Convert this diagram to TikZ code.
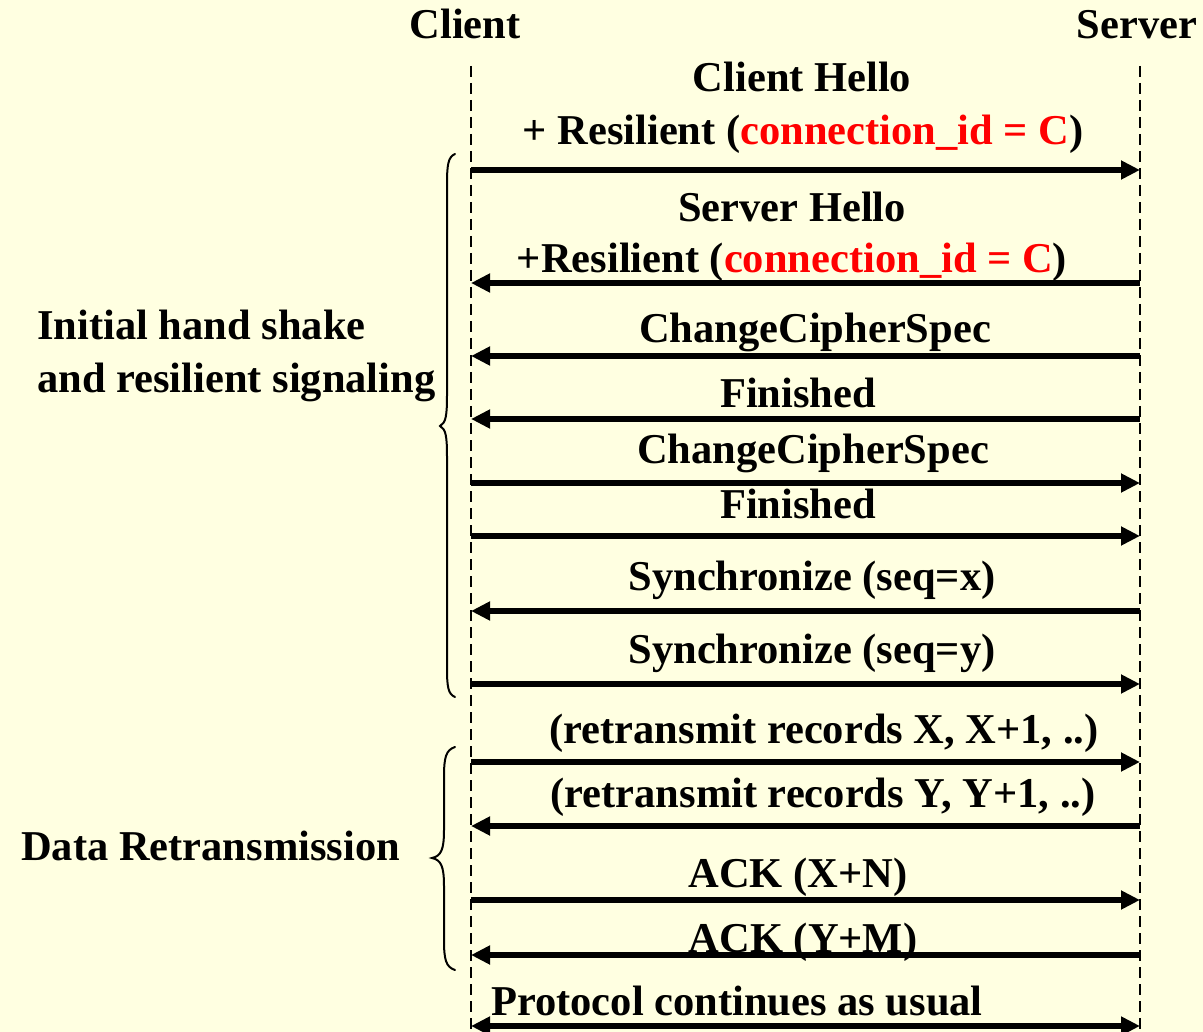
\documentclass[tikz,border=0pt]{standalone}
\usepackage{fontspec}
\setmainfont{Liberation Serif}
\usetikzlibrary{arrows.meta}
\definecolor{paper}{RGB}{255,255,225}
\definecolor{idred}{RGB}{255,0,0}
\begin{document}
\begin{tikzpicture}[x=1pt,y=-1pt,
  txt/.style={inner sep=0pt,font=\fontsize{42.5}{51}\selectfont\bfseries},
  msg/.style={txt,anchor=base},
  lbl/.style={txt,anchor=base west},
  lifeline/.style={line width=1.8pt,dash pattern=on 11pt off 6pt},
  sendarrow/.style={line width=5.5pt,-{Triangle[length=19pt,width=18pt]}},
  bothways/.style={line width=5.5pt,{Triangle[length=19pt,width=18pt]}-{Triangle[length=19pt,width=18pt]}},
  bracestroke/.style={line width=2pt,line cap=round}]

% canvas
\fill[paper] (0,0) rectangle (1203,1032);
\useasboundingbox (0,0) rectangle (1203,1032);

% participants
\node[msg] (client) at (465,39) {Client};
\node[msg] (server) at (1137,39) {Server};

% lifelines
\coordinate (ctop) at (471,66);
\coordinate (cbot) at (471,1032);
\coordinate (stop) at (1140,66);
\coordinate (sbot) at (1140,1032);
\draw[lifeline] (ctop) -- (cbot);
\draw[lifeline] (stop) -- (sbot);

% message rows: client end c<n>, server end s<n>
\foreach \n/\y in {1/170,2/283,3/356,4/419,5/483,6/536,7/611,8/684,
                   9/762,10/826,11/900,12/955,13/1026}{
  \coordinate (c\n) at (471,\y);
  \coordinate (s\n) at (1140,\y);
}

% messages
\node[msg] (m1a) at (802,92) {Client Hello};
\node[msg] (m1b) at (803,145) {+ Resilient (\textcolor{idred}{connection\_id = C})};
\draw[sendarrow] (c1) -- (s1);

\node[msg] (m2a) at (792,222) {Server Hello};
\node[msg] (m2b) at (792,273) {+Resilient (\textcolor{idred}{connection\_id = C})};
\draw[sendarrow] (s2) -- (c2);

\node[msg] (m3) at (815,343) {ChangeCipherSpec};
\draw[sendarrow] (s3) -- (c3);

\node[msg] (m4) at (798,407) {Finished};
\draw[sendarrow] (s4) -- (c4);

\node[msg] (m5) at (813,463) {ChangeCipherSpec};
\draw[sendarrow] (c5) -- (s5);

\node[msg] (m6) at (798,518) {Finished};
\draw[sendarrow] (c6) -- (s6);

\node[msg] (m7) at (812,590) {Synchronize (seq=x)};
\draw[sendarrow] (s7) -- (c7);

\node[msg] (m8) at (812,663) {Synchronize (seq=y)};
\draw[sendarrow] (c8) -- (s8);

\node[msg] (m9) at (824,743) {(retransmit records X, X+1, ..)};
\draw[sendarrow] (c9) -- (s9);

\node[msg] (m10) at (823,807) {(retransmit records Y, Y+1, ..)};
\draw[sendarrow] (s10) -- (c10);

\node[msg] (m11) at (798,887) {ACK (X+N)};
\draw[sendarrow] (c11) -- (s11);

\node[msg] (m12) at (803,952) {ACK (Y+M)};
\draw[sendarrow] (s12) -- (c12);

\node[lbl] (m13) at (491,1015) {Protocol continues as usual};
\draw[bothways] (c13) -- (s13);

% phase labels
\node[lbl] (phase1a) at (37,340) {Initial hand shake};
\node[lbl] (phase1b) at (37,392) {and resilient signaling};
\node[lbl] (phase2) at (21,860) {Data Retransmission};

% braces grouping the phases
\draw[bracestroke] (455,154) .. controls (448,157) and (447,165) .. (447,185)
  -- (447,395) .. controls (447,415) and (446,423) .. (440,426)
  .. controls (446,429) and (447,437) .. (447,457)
  -- (447,667) .. controls (447,687) and (448,694) .. (455,697);
\draw[bracestroke] (455,747) .. controls (446,750) and (444,757) .. (444,777)
  -- (444,830) .. controls (444,850) and (441,856) .. (432,858)
  .. controls (441,860) and (444,866) .. (444,886)
  -- (444,940) .. controls (444,960) and (446,967) .. (455,970);
\end{tikzpicture}
\end{document}
